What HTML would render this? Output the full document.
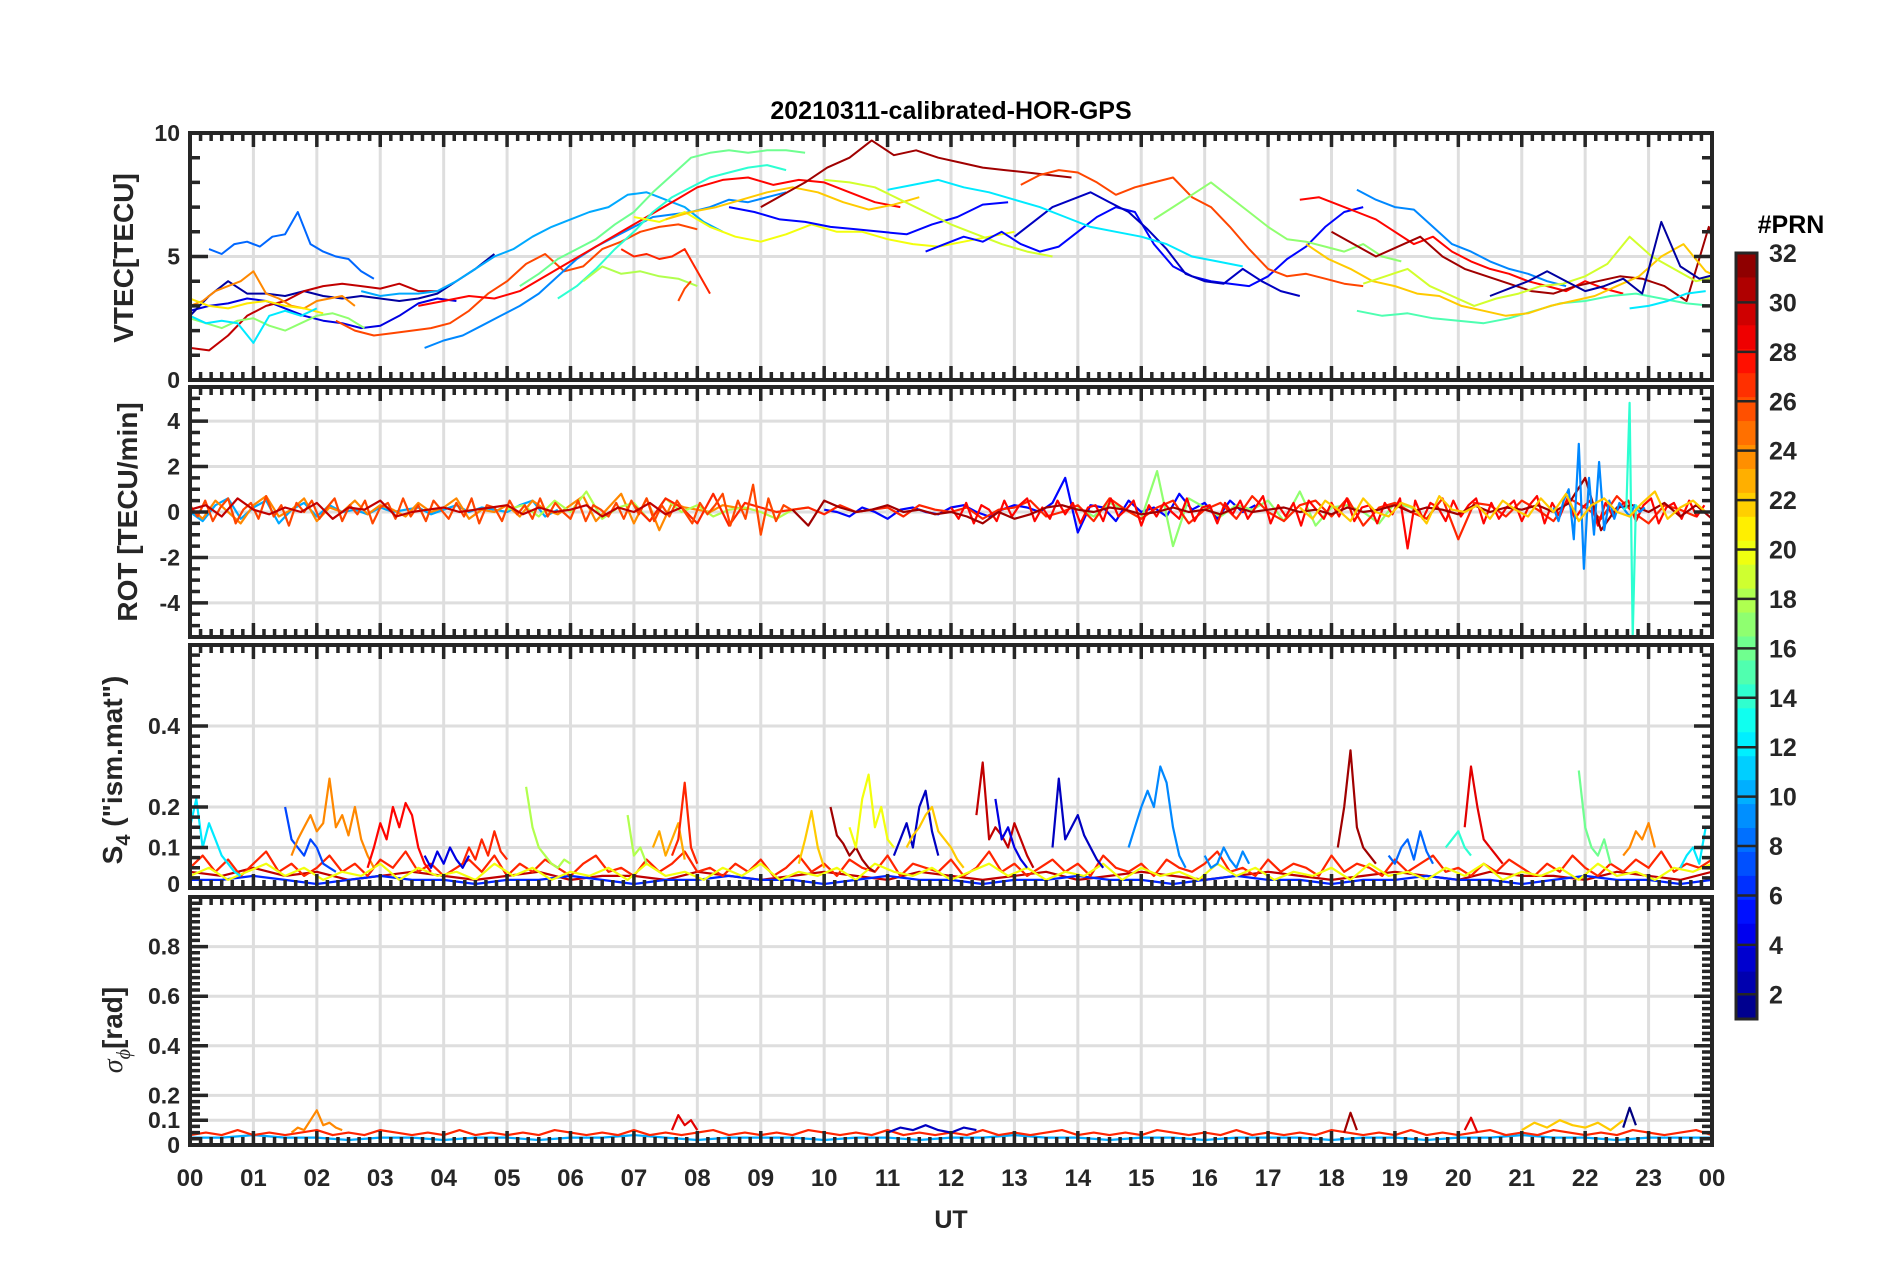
<!DOCTYPE html>
<html><head><meta charset="utf-8"><style>
body{margin:0;background:#fff}
svg{display:block;font-family:"Liberation Sans",Arial,sans-serif;font-weight:bold}
</style></head><body>
<svg id="fig" width="1902" height="1272" viewBox="0 0 1902 1272">
<g id="grid"></g><g id="series"></g><g id="axes"></g><g id="cbar"></g>
<text x="951" y="119" text-anchor="middle" font-size="25" fill="#000">20210311-calibrated-HOR-GPS</text>
<text x="951" y="1228" text-anchor="middle" font-size="25" fill="#262626">UT</text>
<text x="1791" y="233" text-anchor="middle" font-size="25" fill="#000">#PRN</text>
<text transform="translate(133,258) rotate(-90)" text-anchor="middle" font-size="28" fill="#262626">VTEC[TECU]</text>
<text transform="translate(137,512) rotate(-90)" text-anchor="middle" font-size="28" fill="#262626">ROT [TECU/min]</text>
<text transform="translate(122,770) rotate(-90)" text-anchor="middle" font-size="28" fill="#262626">S<tspan dy="8" font-size="20">4</tspan><tspan dy="-8"> ("ism.mat")</tspan></text>
<text transform="translate(122,1030) rotate(-90)" text-anchor="middle" font-size="28" fill="#262626"><tspan font-style="italic" font-family="Liberation Serif" font-weight="normal">σ</tspan><tspan dy="8" font-size="20" font-style="italic" font-family="Liberation Serif" font-weight="normal">ϕ</tspan><tspan dy="-8">[rad]</tspan></text>
</svg>
<script>
const hourLabels=["00","01","02","03","04","05","06","07","08","09","10","11","12","13","14","15","16","17","18","19","20","21","22","23","00"];
const vtecTicks=[0,5,10];
const rotTicks=[-4,-2,0,2,4];
const s4Ticks=[0,0.1,0.2,0.4];
const sigTicks=[0,0.1,0.2,0.4,0.6,0.8];
const cbarTicks=[2,4,6,8,10,12,14,16,18,20,22,24,26,28,30,32];
// series: [prn, startHour, stepHours, values]
const vtecSeries=[
[8,0.3,0.2,[5.3,5.1,5.5,5.6,5.4,5.8,5.9,6.8,5.5,5.2,5.0,4.9,4.4,4.1]],
[4,0,0.3,[2.8,3.0,3.1,3.3,3.2,2.9,2.6,2.4,2.3,2.1,2.2,2.6,3.1,3.3,3.2]],
[2,0,0.3,[2.6,3.4,4.0,3.5,3.5,3.4,3.6,3.4,3.3,3.4,3.3,3.2,3.3,3.5,4.0,4.5,5.1]],
[30,0,0.3,[1.3,1.2,1.8,2.6,3.0,3.2,3.6,3.8,3.9,3.8,3.7,3.9,3.6,3.6]],
[24,0,0.2,[3.0,3.2,3.6,3.8,4.0,4.4,3.5,3.3,3.0,2.9,3.2,3.3,3.4,3.0]],
[21,0,0.3,[3.3,3.0,2.9,3.1,3.2,3.0,2.9,2.7]],
[17,0,0.25,[2.5,2.3,2.1,2.4,2.5,2.2,2.0,2.3,2.6,2.7,2.5,2.1]],
[12,0,0.25,[2.6,2.3,2.4,2.3,1.5,2.6,2.8,2.6,2.9]],
[26,2.3,0.3,[2.4,2.0,1.8,1.9,2.0,2.1,2.3,2.8,3.5,4.0,4.7,5.1,4.4,4.6,5.3,5.6,6.0,6.2,6.3,6.1]],
[9,3.7,0.3,[1.3,1.6,1.8,2.2,2.6,3.0,3.5,4.2,4.9,5.4,5.8,6.2,6.6,6.7,6.8,7.0,7.3,7.2,7.4,7.6]],
[10,2.7,0.3,[3.6,3.4,3.5,3.5,3.6,4.0,4.5,5.0,5.3,5.8,6.2,6.5,6.8,7.0,7.5,7.6,7.3,7.0,6.4,6.0]],
[28,3.6,0.4,[3.0,3.2,3.4,3.3,3.6,4.2,4.8,5.4,6.0,6.6,7.2,7.8,8.1,8.2,7.9,8.1,8.0,7.6,7.2,7.0]],
[16,5.2,0.3,[3.8,4.3,4.9,5.3,5.7,6.3,6.8,7.6,8.3,9.0,9.2,9.3,9.2,9.3,9.3,9.2]],
[14,5.8,0.3,[3.3,3.8,4.5,5.3,6.0,6.8,7.4,7.8,8.2,8.4,8.6,8.7,8.5]],
[18,6.2,0.3,[4.0,4.6,4.3,4.4,4.2,4.1,3.8]],
[27,6.8,0.2,[5.3,5.0,5.1,4.9,5.0,5.3,4.4,3.5]],
[26,7.7,0.1,[3.2,3.7,4.0]],
[20,7,0.4,[6.6,6.4,6.8,6.2,5.8,5.6,5.9,6.3,6.0,6.0,5.7,5.5,5.4,5.6,5.8,6.0]],
[22,7.5,0.4,[6.5,6.8,7.0,7.3,7.6,7.8,7.6,7.2,6.9,7.1,7.4]],
[5,8.5,0.4,[7.0,6.8,6.5,6.4,6.2,6.1,6.0,5.9,6.3,6.6,7.1,7.2]],
[31,9,0.35,[7.0,7.5,8.0,8.6,9.0,9.7,9.1,9.3,9.0,8.8,8.6,8.5,8.4,8.3,8.2]],
[19,10,0.4,[8.1,8.0,7.8,7.3,6.8,6.3,5.9,5.5,5.2,5.0]],
[5,11.6,0.3,[5.2,5.5,5.8,5.6,6.0,5.5,5.2,5.4,6.0,6.6,7.0,6.8,5.5,4.6,4.2,4.0,3.9,3.8,4.2,4.9,5.4,6.2,6.8,7.0]],
[3,13,0.3,[5.8,6.4,7.0,7.3,7.6,7.2,6.8,6.1,5.3,4.3,4.0,3.9,4.5,4.0,3.6,3.4]],
[26,13.1,0.3,[7.9,8.3,8.5,8.4,8.0,7.5,7.8,8.0,8.2,7.4,7.0,6.2,5.3,4.5,4.2,4.3,4.1,3.9,3.8]],
[12,11,0.4,[7.7,7.9,8.1,7.8,7.6,7.3,7.0,6.6,6.2,6.0,5.8,5.5,5.0,4.8,4.6]],
[17,15.2,0.3,[6.5,7.0,7.5,8.0,7.4,6.8,6.2,5.7,5.6,5.4,5.2,5.5,5.0,4.8]],
[28,17.5,0.3,[7.3,7.4,7.1,6.8,6.5,6.0,5.5,5.8,5.2,4.8,4.5,4.3,4.0,3.8,3.6,4.0,3.7,3.5]],
[9,18.4,0.3,[7.7,7.3,7.0,6.9,6.2,5.5,5.2,4.8,4.5,4.3,4.0,3.8]],
[31,18,0.35,[6.0,5.5,5.0,5.4,5.8,5.0,4.5,4.2,3.9,3.6,3.5,3.8,4.0,4.2,4.1,3.8,3.2,6.2,3.0,2.6,2.2,2.0,2.8,1.6]],
[15,18.4,0.4,[2.8,2.6,2.7,2.5,2.4,2.3,2.5,2.8,3.1,3.2,3.4,3.5,3.3,3.1,3.0,3.2]],
[22,17.6,0.35,[5.5,4.9,4.5,4.0,3.8,3.5,3.4,3.0,2.8,2.6,2.7,3.0,3.2,3.4,3.8,4.2,5.0,5.5,4.4,4.0,4.1,4.0]],
[19,18.5,0.35,[3.9,4.2,4.5,3.8,3.4,3.0,3.3,3.5,3.8,3.9,4.2,4.7,5.8,5.0,4.5,4.0,4.2,4.6,4.0,3.7]],
[2,20.5,0.3,[3.4,3.7,4.0,4.4,4.0,3.6,3.8,4.1,3.5,6.4,4.6,4.1,4.3,4.0,3.8,4.2]],
[12,22.7,0.3,[2.9,3.0,3.2,3.5,3.6]]
];
const rotSeries=[
[10,0,0.2,[0.0,-0.4,0.3,0.6,-0.3,0.2,0.5,-0.5,0.1,0.4,-0.2,0.3,0.0,0.1,-0.1,0.2,0.0,0.1,0.2,-0.1,0.1,0.3,0.0,0.2,0.1,0.0,0.3,0.5,-0.2,0.1]],
[24,0,0.2,[0.2,-0.3,0.5,0.0,-0.5,0.3,0.7,-0.2,0.1,0.6,-0.4,0.2,0.0,0.5,-0.1,0.3,0.1,-0.2,0.4,0.0,0.2,0.6,-0.3,0.1,0.0,0.3,-0.2,0.5,0.1,-0.1,0.3,0.7,-0.4,0.2,0.8,-0.5,0.6,-0.8,0.4,0.2,0.1,0.0,0.3,0.2,0.1]],
[18,5,0.25,[0.1,0.3,-0.2,0.5,0.0,0.9,-0.3,0.2,0.4,-0.4,0.6,0.0,0.3,-0.2,0.1,0.2,0.0,-0.3,0.1,0.2]],
[5,10,0.2,[0.1,0.0,-0.2,0.2,0.0,-0.3,0.1,0.2,0.0,-0.1,0.2,0.3,0.0,-0.2,0.1,0.3,0.2,0.0,0.4,1.5,-0.9,0.3,0.2,-0.4,0.5,0.0,0.2,-0.2,0.8,0.1,0.4,-0.3,0.5,0.0,0.3]],
[17,14,0.25,[0.2,-0.2,0.4,0.1,-0.3,1.8,-1.5,0.6,0.2,-0.2,0.3,0.1,0.5,-0.4,0.9,-0.6,0.2,0.3,0.0,-0.5,0.4,0.2,-0.3,0.6]],
[27,7,0.25,[0.3,-0.4,0.6,0.2,-0.5,0.8,-0.6,0.4,0.2,0.0,0.1,0.2,-0.1,0.3,0.0,0.1,0.2,-0.2,0.3,0.1,0.0,0.2,-0.3,0.1,0.2,0.5,-0.2,0.0,0.3,-0.4,0.6,0.1,-0.3,0.2,0.5,-0.5,0.1,0.4,-0.3,0.7,0.0,-0.4,0.3,0.5,-0.2,0.6,-0.6,0.2,0.4,0.0,-0.3,0.6,-1.2,0.4,0.3,-0.2,0.5,0.1,-0.4,0.6,0.2,-0.3,0.7,0.0,-0.5,0.3,0.1,-0.2]],
[26,0,0.12,[0.3,-0.2,0.5,-0.4,0.2,0.6,-0.5,0.1,0.4,-0.3,0.7,-0.2,0.3,-0.6,0.4,0.0,0.5,-0.3,0.2,0.6,-0.4,0.3,-0.1,0.5,-0.5,0.2,0.4,-0.3,0.6,-0.2,0.3,-0.4,0.5,0.1,-0.3,0.4,-0.2,0.6,-0.5,0.3,0.2,-0.4,0.5,-0.1,0.3,-0.3,0.6,-0.2,0.4,0.0,-0.3,0.5,-0.4,0.3,0.1,-0.2,0.4,-0.3,0.5,-0.1,0.6,-0.4,0.3,-0.2,0.5,0.0,-0.5,0.4,-0.1,0.3,0.8,-0.6,0.5,-0.3,1.2,-1.0,0.6,-0.4,0.3,0.1]],
[28,12,0.12,[0.2,-0.3,0.4,-0.5,0.3,0.1,-0.4,0.5,-0.2,0.3,0.6,-0.4,0.2,-0.3,0.5,-0.1,0.4,-0.5,0.2,0.3,-0.4,0.6,-0.2,0.1,0.5,-0.6,0.3,-0.2,0.4,0.0,-0.3,0.6,-0.4,0.2,0.3,-0.5,0.4,-0.1,0.5,-0.3,0.2,0.7,-0.5,0.3,-0.2,0.4,-0.6,0.5,0.1,-0.3,0.4,-0.2,0.6,-0.4,0.2,0.3,-0.5,0.4,-0.1,0.6,-1.6,0.5,-0.3,0.4,0.2,-0.4,0.5,-0.2,0.3,0.6,-0.5,0.4,-0.3,0.2,0.5,-0.4,0.3,0.7,-0.5,0.4,-0.2,0.6,-0.3,0.2,0.5,-0.6,0.4,-0.2,0.3,0.5,-0.4,0.3,0.6,-0.5,0.2,0.4,-0.3,0.5,-0.2,0.3]],
[31,9.5,0.25,[0.1,-0.6,0.5,0.2,0.0,0.1,0.3,0.0,0.1,-0.1,0.0,-0.2,-0.5,0.0,-0.3,-0.1,0.2,0.3,0.1,0.0,0.2,0.1,-0.1,0.0,0.2,0.0,0.1,-0.1,0.2,0.0,0.1,0.2,0.0,0.1,-0.1,0.2,0.0,0.1,0.3,0.0,0.2,0.1,-0.1,0.3,0.0,0.2,0.1,0.3,0.0,0.4,1.5,-0.8,0.2,0.3,0.0,0.4,-0.2,0.3,-0.3]],
[9,21.5,0.08,[0.2,-0.4,0.5,1.0,-1.2,3.0,-2.5,1.5,-1.0,2.2,-0.8,0.5,-0.3,0.4,0.1,-0.2,0.3,0.0,0.2]],
[14,22.6,0.05,[0.1,0.2,4.8,-5.5,0.3,0.1]],
[22,17.5,0.2,[0.2,-0.3,0.5,0.1,-0.4,0.6,0.0,-0.2,0.4,0.2,-0.5,0.7,0.1,0.0,0.3,-0.3,0.5,0.1,-0.2,0.6,0.0,0.8,-0.4,0.3,0.6,0.0,-0.2,0.4,0.9,-0.3,0.2,0.5,0.0]],
[30,0,0.25,[0.1,0.3,-0.2,0.6,0.1,-0.1,0.2,0.0,0.4,-0.3,0.2,0.1,0.5,-0.2,0.0,0.1,0.2,0.0,0.1,0.2,0.3,-0.1,0.2,0.0,0.1,0.3,-0.2,0.2,0.0,0.4,-0.1,0.2]]
];
const s4Series=[
[30,0,0.5,[0.04,0.03,0.05,0.03,0.04,0.02,0.03,0.04,0.03,0.02,0.03,0.04,0.02,0.03,0.03,0.02,0.04,0.03,0.02,0.03,0.04,0.03,0.02,0.04,0.03,0.02,0.03,0.04,0.02,0.03,0.04,0.03,0.02,0.03,0.04,0.03,0.02,0.03,0.04,0.03,0.02,0.04,0.03,0.03,0.02,0.04,0.03,0.02,0.04]],
[6,0,0.5,[0.02,0.02,0.03,0.02,0.01,0.02,0.03,0.02,0.02,0.01,0.02,0.02,0.03,0.02,0.01,0.02,0.02,0.03,0.02,0.02,0.01,0.02,0.03,0.02,0.02,0.01,0.02,0.02,0.03,0.02,0.02,0.01,0.02,0.03,0.02,0.02,0.01,0.02,0.02,0.03,0.02,0.02,0.01,0.02,0.03,0.02,0.02,0.01,0.02]],
[27,0,0.2,[0.05,0.08,0.04,0.07,0.03,0.06,0.09,0.04,0.06,0.03,0.05,0.08,0.04,0.06,0.03,0.07,0.05,0.09,0.04,0.06,0.03,0.05,0.07,0.04,0.08,0.03,0.06,0.04,0.07,0.05,0.03,0.06,0.08,0.04,0.05,0.03,0.07,0.04,0.06,0.09,0.04,0.05,0.03,0.06,0.04,0.07,0.03,0.05,0.08,0.04,0.06,0.03,0.07,0.05,0.04,0.08,0.03,0.06,0.05,0.04,0.07,0.03,0.05,0.09,0.04,0.06,0.03,0.05,0.07,0.04,0.06,0.03,0.08,0.05,0.04,0.06,0.03,0.07,0.05,0.04,0.06,0.09,0.04,0.05,0.03,0.07,0.04,0.06,0.05,0.03,0.08,0.04,0.06,0.05,0.03,0.07,0.04,0.06,0.08,0.04,0.05,0.03,0.06,0.04,0.07,0.05,0.03,0.06,0.04,0.08,0.05,0.03,0.06,0.04,0.07,0.05,0.09,0.04,0.06,0.05,0.07]],
[20,0,0.3,[0.03,0.05,0.02,0.04,0.06,0.03,0.05,0.02,0.04,0.03,0.06,0.02,0.05,0.03,0.04,0.02,0.06,0.03,0.05,0.02,0.04,0.03,0.05,0.02,0.06,0.03,0.04,0.02,0.05,0.03,0.06,0.02,0.04,0.03,0.05,0.02,0.06,0.04,0.03,0.05,0.02,0.04,0.06,0.03,0.05,0.02,0.04,0.03,0.06,0.02,0.05,0.03,0.04,0.02,0.06,0.03,0.05,0.02,0.04,0.03,0.05,0.02,0.06,0.03,0.04,0.02,0.05,0.03,0.06,0.02,0.04,0.03,0.05,0.02,0.06,0.03,0.04,0.02,0.05,0.04,0.06]],
[12,0,0.1,[0.15,0.22,0.1,0.16,0.12,0.08,0.06,0.04,0.03]],
[7,1.5,0.1,[0.2,0.12,0.1,0.08,0.12,0.1,0.06,0.05,0.04]],
[24,1.6,0.1,[0.08,0.12,0.15,0.18,0.14,0.16,0.27,0.15,0.18,0.13,0.2,0.12,0.08,0.05]],
[28,2.8,0.1,[0.05,0.1,0.16,0.12,0.2,0.15,0.21,0.18,0.1,0.06,0.04]],
[4,3.7,0.1,[0.08,0.05,0.09,0.06,0.1,0.07,0.05,0.08]],
[27,4.3,0.1,[0.06,0.1,0.07,0.12,0.08,0.14,0.09,0.07]],
[18,5.3,0.1,[0.25,0.15,0.1,0.08,0.06,0.05,0.07,0.06]],
[18,6.9,0.1,[0.18,0.08,0.1,0.06]],
[23,7.3,0.1,[0.1,0.14,0.08,0.12,0.16,0.07]],
[27,7.6,0.1,[0.08,0.12,0.26,0.1,0.06]],
[22,9.6,0.1,[0.06,0.12,0.19,0.1,0.05]],
[31,10.1,0.1,[0.2,0.13,0.11,0.08,0.1,0.07,0.05,0.04]],
[20,10.4,0.1,[0.15,0.1,0.22,0.28,0.15,0.2,0.12,0.1]],
[3,11.1,0.1,[0.08,0.12,0.16,0.1,0.2,0.24,0.14,0.08]],
[22,11.3,0.1,[0.1,0.13,0.15,0.18,0.2,0.14,0.12,0.1,0.07,0.05]],
[30,12.4,0.1,[0.18,0.31,0.12,0.15,0.13,0.1,0.16,0.12,0.08,0.05]],
[4,12.7,0.1,[0.22,0.12,0.15,0.1,0.07,0.05]],
[3,13.6,0.1,[0.1,0.27,0.12,0.15,0.18,0.13,0.1,0.07,0.05]],
[9,14.8,0.1,[0.1,0.15,0.2,0.24,0.2,0.3,0.26,0.15,0.08,0.05]],
[9,16,0.1,[0.08,0.05,0.06,0.1,0.07,0.05,0.09,0.06]],
[31,18.1,0.1,[0.1,0.2,0.34,0.15,0.1,0.08,0.06]],
[8,18.9,0.1,[0.08,0.06,0.1,0.12,0.07,0.14,0.09,0.06]],
[14,19.8,0.1,[0.1,0.12,0.14,0.1,0.08]],
[29,20.1,0.1,[0.15,0.3,0.2,0.12,0.1,0.08,0.06]],
[16,21.9,0.1,[0.29,0.15,0.1,0.08,0.12,0.06]],
[24,22.6,0.1,[0.08,0.1,0.14,0.12,0.16,0.1]],
[12,23.5,0.1,[0.05,0.08,0.1,0.06,0.15]]
];
const sigSeries=[
[10,0,0.5,[0.03,0.03,0.04,0.03,0.03,0.02,0.03,0.03,0.02,0.03,0.03,0.02,0.03,0.03,0.04,0.03,0.02,0.03,0.03,0.03,0.02,0.03,0.03,0.02,0.03,0.03,0.04,0.03,0.03,0.02,0.03,0.03,0.02,0.03,0.03,0.03,0.02,0.03,0.03,0.02,0.03,0.03,0.04,0.03,0.03,0.02,0.03,0.03,0.03]],
[27,0,0.25,[0.04,0.05,0.04,0.06,0.04,0.05,0.04,0.05,0.06,0.04,0.05,0.04,0.06,0.05,0.04,0.05,0.04,0.06,0.04,0.05,0.04,0.05,0.04,0.06,0.05,0.04,0.05,0.04,0.06,0.04,0.05,0.04,0.05,0.06,0.04,0.05,0.04,0.05,0.04,0.06,0.05,0.04,0.05,0.04,0.06,0.04,0.05,0.04,0.05,0.04,0.06,0.04,0.05,0.04,0.05,0.06,0.04,0.05,0.04,0.05,0.04,0.06,0.05,0.04,0.05,0.04,0.06,0.04,0.05,0.04,0.05,0.04,0.06,0.05,0.04,0.05,0.04,0.06,0.04,0.05,0.04,0.05,0.06,0.04,0.05,0.04,0.06,0.05,0.04,0.05,0.04,0.06,0.05,0.04,0.05,0.06,0.04]],
[24,1.6,0.1,[0.05,0.07,0.06,0.1,0.14,0.08,0.09,0.07,0.06]],
[3,11,0.2,[0.05,0.07,0.06,0.08,0.06,0.05,0.07,0.06]],
[29,7.6,0.1,[0.06,0.12,0.08,0.1,0.06]],
[31,18.2,0.1,[0.05,0.13,0.06]],
[29,20.1,0.1,[0.06,0.11,0.05]],
[1,22.6,0.1,[0.07,0.15,0.08]],
[22,21,0.2,[0.06,0.09,0.07,0.1,0.08,0.07,0.09,0.06,0.1]]
];

const X0=190,X1=1712;
const panels=[
 {name:'vtec',top:133,bot:380,min:0,max:10,ticks:vtecTicks,minor:1,data:vtecSeries,lw:2},
 {name:'rot',top:387,bot:637,min:-5.5,max:5.5,ticks:rotTicks,minor:0.5,data:rotSeries,lw:2.2},
 {name:'s4',top:645,bot:888,min:0,max:0.6,ticks:s4Ticks,minor:0.025,data:s4Series,lw:2.2},
 {name:'sigma',top:897,bot:1145,min:0,max:1,ticks:sigTicks,minor:0.025,data:sigSeries,lw:2.2}
];
const NS='http://www.w3.org/2000/svg';
function mk(tag,attrs,parent){const e=document.createElementNS(NS,tag);for(const k in attrs)e.setAttribute(k,attrs[k]);parent.appendChild(e);return e;}
function xs(h){return X0+(X1-X0)*h/24;}
function jet(v){const t=Math.max(0,Math.min(1,(v-1)/31));const r=Math.max(0,Math.min(1,1.5-Math.abs(4*t-3)));const g=Math.max(0,Math.min(1,1.5-Math.abs(4*t-2)));const b=Math.max(0,Math.min(1,1.5-Math.abs(4*t-1)));return `rgb(${Math.round(r*255)},${Math.round(g*255)},${Math.round(b*255)})`;}
const G=document.getElementById('grid'),S=document.getElementById('series'),A=document.getElementById('axes'),C=document.getElementById('cbar');
const col='#262626';
panels.forEach(p=>{
 const ys=v=>p.bot-(v-p.min)/(p.max-p.min)*(p.bot-p.top);
 for(let h=1;h<24;h++){const l=mk('line',{x1:xs(h),x2:xs(h),y1:p.top,y2:p.bot,stroke:'#dedede','stroke-width':3},G);
  
  }
 p.ticks.forEach(t=>{if(t===p.min||t===p.max)return;const l=mk('line',{x1:X0,x2:X1,y1:ys(t),y2:ys(t),stroke:'#dedede','stroke-width':3},G);
  
  });
 const cg=mk('g',{'clip-path':'url(#clip-'+p.name+')'},S);
 const cp=mk('clipPath',{id:'clip-'+p.name},S);mk('rect',{x:X0,y:p.top,width:X1-X0,height:p.bot-p.top},cp);
 p.data.forEach((s,i)=>{const [prn,t0,dt,vals]=s;const pts=vals.map((v,k)=>xs(t0+k*dt).toFixed(1)+','+ys(v).toFixed(1)).join(' ');
  const pl=mk('polyline',{points:pts,fill:'none',stroke:jet(prn),'stroke-width':p.lw,'stroke-linejoin':'round'},cg);
  
  });
 let d='';
 for(let m=0;m<=144;m++){const x=xs(m/6);const L=(m%6===0)?14:8;d+=`M${x},${p.top}v${L}M${x},${p.bot}v${-L}`;}
 const nMin=Math.round((p.max-p.min)/p.minor);
 for(let k=0;k<=nMin;k++){const v=p.min+k*p.minor;const y=ys(v);const major=p.ticks.some(t=>Math.abs(t-v)<1e-6);const L=major?18:10;d+=`M${X0},${y}h${L}M${X1},${y}h${-L}`;}
 const tp=mk('path',{d:d,stroke:col,'stroke-width':3.5,fill:'none'},A);
 
 
 const fr=mk('rect',{x:X0,y:p.top,width:X1-X0,height:p.bot-p.top,fill:'none',stroke:col,'stroke-width':4},A);
 
 
 p.ticks.forEach(t=>{let y=ys(t);if(p.name==='s4'&&t===0)y=p.bot-4;const tx=mk('text',{x:X0-10,y:y+8,'text-anchor':'end','font-size':23,fill:col},A);tx.textContent=String(t);
  
  });
});
hourLabels.forEach((lab,i)=>{const t=mk('text',{x:xs(i),y:1186,'text-anchor':'middle','font-size':24,fill:col},A);t.textContent=lab;
 
 });
const CB={x:1736,w:21,top:253,bot:1019};
const cy=v=>CB.bot-(v-1)/31*(CB.bot-CB.top);
for(let k=1;k<=32;k++){const y0=CB.bot-(k-1)/32*(CB.bot-CB.top),y1=CB.bot-k/32*(CB.bot-CB.top);
 const r=mk('rect',{x:CB.x,y:y1,width:CB.w,height:y0-y1+0.5,fill:jet(1+(k-0.5)*31/32)},C);
 
 }
mk('rect',{x:CB.x,y:CB.top,width:CB.w,height:CB.bot-CB.top,fill:'none',stroke:col,'stroke-width':3},C);
cbarTicks.forEach(v=>{const y=cy(v);mk('line',{x1:CB.x,x2:CB.x+CB.w,y1:y,y2:y,stroke:col,'stroke-width':2.5},C);
 const t=mk('text',{x:CB.x+33,y:y+9,'font-size':25,fill:col},C);t.textContent=v;
 
 });
</script>
</body></html>
